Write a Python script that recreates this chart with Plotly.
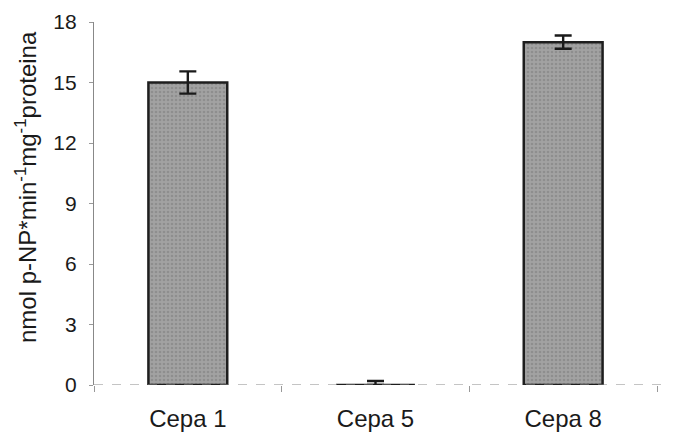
import plotly.graph_objects as go

categories = ["Cepa 1", "Cepa 5", "Cepa 8"]
values = [15.0, 0.0, 17.0]
err_plus = [0.55, 0.2, 0.33]
err_minus = [0.55, 0.0, 0.33]
y_ticks = [0, 3, 6, 9, 12, 15, 18]

font_family = "Liberation Sans, Arial, sans-serif"

fig = go.Figure()
fig.add_trace(go.Bar(
    x=categories, y=values, width=0.42,
    marker=dict(color="#9a9a9a", line=dict(color="#1e1e1e", width=2.5),
                pattern=dict(shape=".", bgcolor="#a2a2a2", fgcolor="#7a7a7a",
                             size=4, solidity=0.35, fillmode="overlay")),
    error_y=dict(type="data", array=err_plus, arrayminus=err_minus,
                 color="#1a1a1a", thickness=2.4, width=8.5, symmetric=False),
))
fig.add_shape(type="line", xref="paper", yref="y", x0=0, x1=1.04, y0=0, y1=0,
              line=dict(color="#8a8a8a", width=1.2, dash="dash"), layer="above")

fig.add_annotation(
    text="nmol p-NP*min<sup>-1</sup>mg<sup>-1</sup>proteina",
    xref="paper", yref="paper", x=-0.121, y=0.545,
    xanchor="center", yanchor="middle", textangle=-90, showarrow=False,
    font=dict(size=24, family=font_family, color="#1a1a1a"),
)

fig.update_layout(
    width=675, height=435,
    margin=dict(l=86, r=26, t=14, b=58, autoexpand=False),
    plot_bgcolor="white", paper_bgcolor="white",
    showlegend=False,
    font=dict(family=font_family, color="#1a1a1a"),
)
fig.update_xaxes(
    automargin=False,
    showline=False, showgrid=False, zeroline=False,
    ticks="outside", tickson="boundaries", ticklen=6, tickcolor="#999",
    tickfont=dict(size=24, family=font_family, color="#1a1a1a"),
    ticklabelstandoff=17,
)
fig.update_yaxes(
    automargin=False,
    range=[0, 18], tickvals=y_ticks, showgrid=False, zeroline=False,
    showline=True, linecolor="#888", linewidth=1.2,
    ticks="outside", ticklen=4, tickcolor="#999",
    tickfont=dict(size=21, family=font_family, color="#1a1a1a"),
    ticklabelstandoff=8,
)
fig.write_html("out.html")
